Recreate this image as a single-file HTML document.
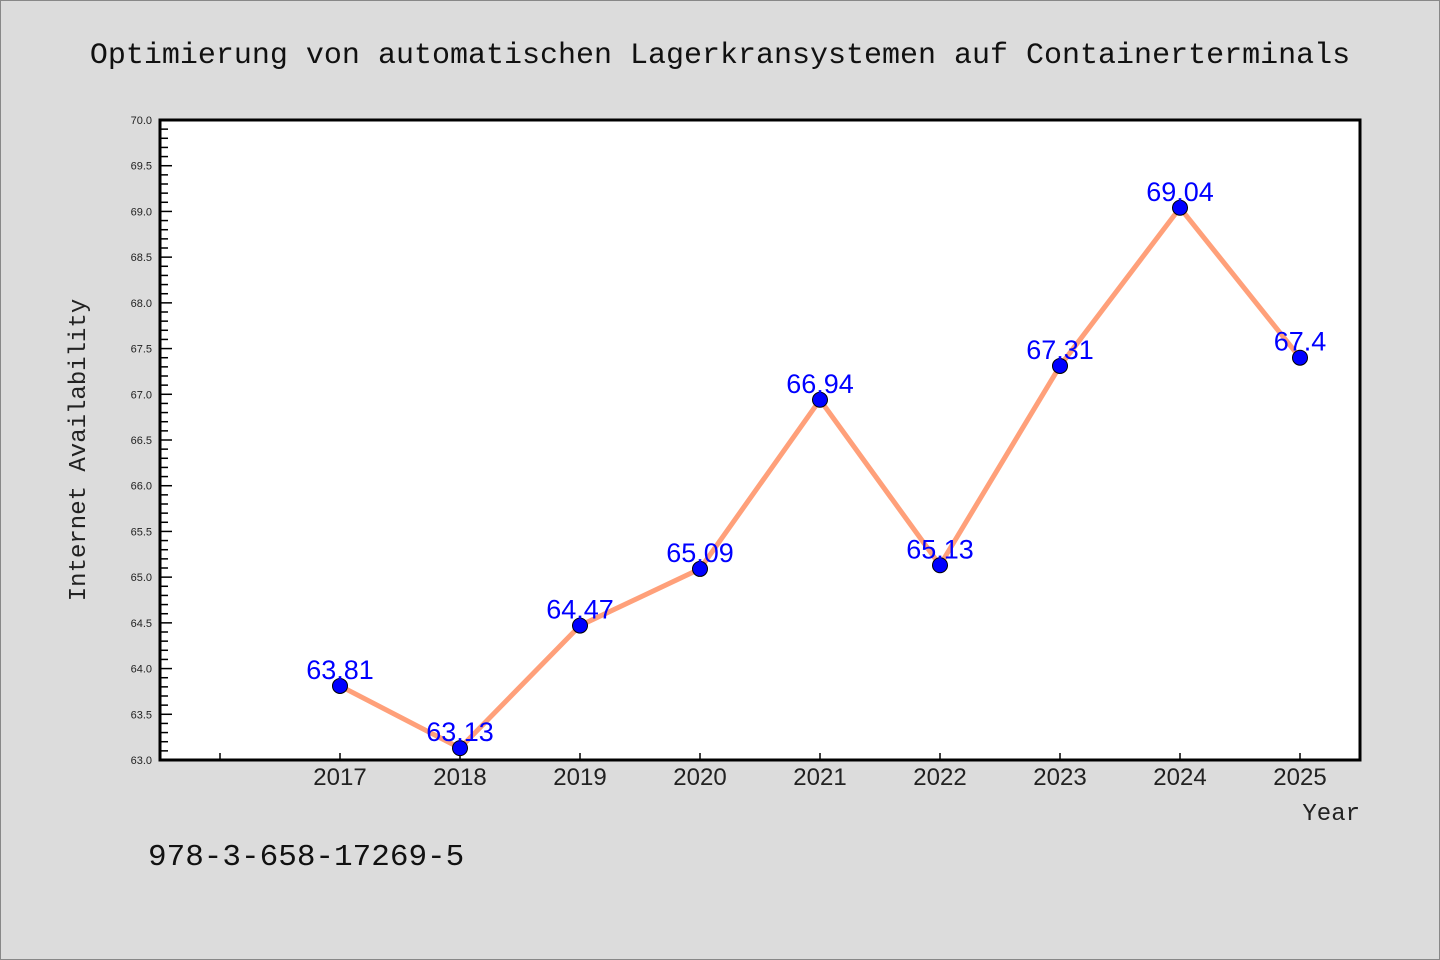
<!DOCTYPE html>
<html><head><meta charset="utf-8"><style>
body{margin:0;background:#dcdcdc;}
svg{display:block;font-family:"Liberation Sans","DejaVu Sans",sans-serif;}
.mono{font-family:"Liberation Mono","DejaVu Sans Mono",monospace;}
</style></head><body>
<svg id="chart" width="1440" height="960">
<rect x="0.5" y="0.5" width="1439" height="959" fill="#dcdcdc" stroke="#888"/>
<text class="mono" x="720" y="63" font-size="30" text-anchor="middle" fill="#111">Optimierung von automatischen Lagerkransystemen auf Containerterminals</text>
<rect x="160" y="120" width="1200" height="640" fill="#fff"/>
<g id="yticks"></g><g id="xticks"></g>
<g id="series"></g>
<rect x="160" y="120" width="1200" height="640" fill="none" stroke="#000" stroke-width="3"/>
<text class="mono" transform="translate(85,450) rotate(-90)" font-size="24" text-anchor="middle" fill="#222">Internet Availability</text>
<text class="mono" x="1360" y="820" font-size="24" text-anchor="end" fill="#222">Year</text>
<text class="mono" x="148" y="865" font-size="31" fill="#111">978-3-658-17269-5</text>
</svg>
<script>
const years=[2017,2018,2019,2020,2021,2022,2023,2024,2025];
const values=[63.81,63.13,64.47,65.09,66.94,65.13,67.31,69.04,67.4];
const labels=["63.81","63.13","64.47","65.09","66.94","65.13","67.31","69.04","67.4"];
const yTicks=["63.0","63.5","64.0","64.5","65.0","65.5","66.0","66.5","67.0","67.5","68.0","68.5","69.0","69.5","70.0"];
const NS="http://www.w3.org/2000/svg";
const X=v=>160+(v-2015.5)*120, Y=v=>760-(v-63)*640/7;
function mk(t,a,p){const e=document.createElementNS(NS,t);for(const k in a)e.setAttribute(k,a[k]);p.appendChild(e);return e;}
const yt=document.getElementById('yticks');
for(let i=0;i<=70;i++){const v=63+i*0.1;const y=Y(v);const maj=i%5==0;
 const l=mk('line',{x1:160,x2:160+(maj?12:8),y1:y,y2:y,stroke:'#000','stroke-width':1.5},yt);
 
 }
yTicks.forEach(s=>{const t=mk('text',{x:152,y:Y(parseFloat(s))+4,'font-size':11,'text-anchor':'end',fill:'#222'},yt);t.textContent=s;
 
 });
const xt=document.getElementById('xticks');
[2016].concat(years).forEach(yr=>{const l=mk('line',{x1:X(yr),x2:X(yr),y1:760,y2:753,stroke:'#000','stroke-width':1.5},xt);
 
 });
years.forEach(yr=>{const t=mk('text',{x:X(yr),y:785,'font-size':24,'text-anchor':'middle',fill:'#222'},xt);t.textContent=yr;
 
 });
const g=document.getElementById('series');
const pl=mk('polyline',{points:years.map((y,i)=>X(y)+','+Y(values[i])).join(' '),fill:'none',stroke:'#ffa07a','stroke-width':5},g);


years.forEach((y,i)=>{const c=mk('circle',{cx:X(y),cy:Y(values[i]),r:7.5,fill:'#0000ff',stroke:'#000','stroke-width':1},g);
 
 });
years.forEach((y,i)=>{const t=mk('text',{x:X(y),y:Y(values[i])-7,'font-size':27,'text-anchor':'middle',fill:'#0000ff'},g);t.textContent=labels[i];
 
 });
</script>
</body></html>
